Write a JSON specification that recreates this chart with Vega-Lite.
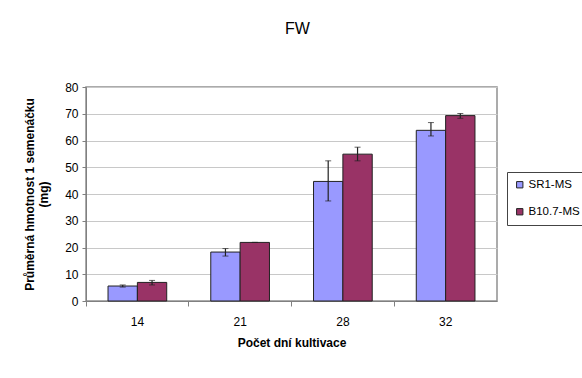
{
  "$schema": "https://vega.github.io/schema/vega-lite/v6.json",
  "autosize": "none",
  "width": 411,
  "height": 214,
  "padding": {"left": 86, "top": 87, "right": 85, "bottom": 77},
  "background": "white",
  "title": {"text": "FW", "fontSize": 16, "fontWeight": "normal", "font": "Liberation Sans", "color": "black", "offset": 44, "dx": 6, "anchor": "middle"},
  "data": {"values": [
    {"day": "14", "series": "SR1-MS", "value": 5.6, "lo": 5.2, "hi": 6.0},
    {"day": "14", "series": "B10.7-MS", "value": 6.95, "lo": 6.0, "hi": 7.7},
    {"day": "21", "series": "SR1-MS", "value": 18.3, "lo": 16.8, "hi": 19.6},
    {"day": "21", "series": "B10.7-MS", "value": 21.9, "lo": 21.9, "hi": 21.9},
    {"day": "28", "series": "SR1-MS", "value": 44.7, "lo": 37.4, "hi": 52.4},
    {"day": "28", "series": "B10.7-MS", "value": 54.9, "lo": 52.4, "hi": 57.5},
    {"day": "32", "series": "SR1-MS", "value": 63.8, "lo": 61.7, "hi": 66.7},
    {"day": "32", "series": "B10.7-MS", "value": 69.3, "lo": 68.3, "hi": 70.1}
  ]},
  "encoding": {
    "x": {"field": "day", "type": "nominal", "sort": ["14", "21", "28", "32"],
      "scale": {"paddingInner": 0, "paddingOuter": 0},
      "axis": {"title": "Počet dní kultivace", "labelAngle": 0, "labelFont": "Liberation Sans", "labelFontSize": 12, "labelColor": "black", "labelPadding": 10,
        "titleFont": "Liberation Sans", "titleFontSize": 12, "titleFontWeight": "bold", "titleColor": "black", "titlePadding": 10,
        "domainColor": "#808080", "tickColor": "#808080", "tickSize": 5, "bandPosition": 0, "grid": false}},
    "xOffset": {"field": "series", "type": "nominal", "sort": ["SR1-MS", "B10.7-MS"], "scale": {"paddingInner": 0, "paddingOuter": 0.75}}
  },
  "layer": [
    {
      "mark": {"type": "bar", "stroke": "#222222", "strokeWidth": 1},
      "encoding": {
        "y": {"field": "value", "type": "quantitative", "scale": {"domain": [0, 80]},
          "axis": {"title": ["Průměrná hmotnost 1 semenáčku", "(mg)"], "values": [0, 10, 20, 30, 40, 50, 60, 70, 80], "labelOverlap": false,
            "labelFont": "Liberation Sans", "labelFontSize": 12, "labelColor": "black", "labelPadding": 4,
            "titleFont": "Liberation Sans", "titleFontSize": 12, "titleFontWeight": "bold", "titleColor": "black", "titlePadding": 14,
            "domainColor": "#808080", "tickColor": "#808080", "tickSize": 4, "gridColor": "#c8c8c8", "gridWidth": 1}},
        "color": {"field": "series", "type": "nominal", "sort": ["SR1-MS", "B10.7-MS"],
          "scale": {"domain": ["SR1-MS", "B10.7-MS"], "range": ["#9999FF", "#993366"]},
          "legend": {"title": null, "orient": "none", "legendX": 421, "legendY": 85, "symbolType": "square", "symbolSize": 40,
            "symbolStrokeColor": "#222222", "symbolStrokeWidth": 1, "labelFont": "Liberation Sans", "labelFontSize": 11.5, "labelColor": "black",
            "rowPadding": 14, "padding": 7, "strokeColor": "#444444", "labelOffset": 3}}
      }
    },
    {
      "mark": {"type": "errorbar", "ticks": {"size": 6, "color": "#222222"}, "rule": {"color": "#222222", "strokeWidth": 1.2}},
      "encoding": {
        "y": {"field": "lo", "type": "quantitative",
          "axis": {"title": ["Průměrná hmotnost 1 semenáčku", "(mg)"], "values": [0, 10, 20, 30, 40, 50, 60, 70, 80], "labelOverlap": false,
            "labelFont": "Liberation Sans", "labelFontSize": 12, "labelColor": "black", "labelPadding": 4,
            "titleFont": "Liberation Sans", "titleFontSize": 12, "titleFontWeight": "bold", "titleColor": "black", "titlePadding": 14,
            "domainColor": "#808080", "tickColor": "#808080", "tickSize": 4, "gridColor": "#c8c8c8", "gridWidth": 1}},
        "y2": {"field": "hi"}
      }
    }
  ],
  "config": {"view": {"stroke": "#909090", "strokeWidth": 1.5}}
}
